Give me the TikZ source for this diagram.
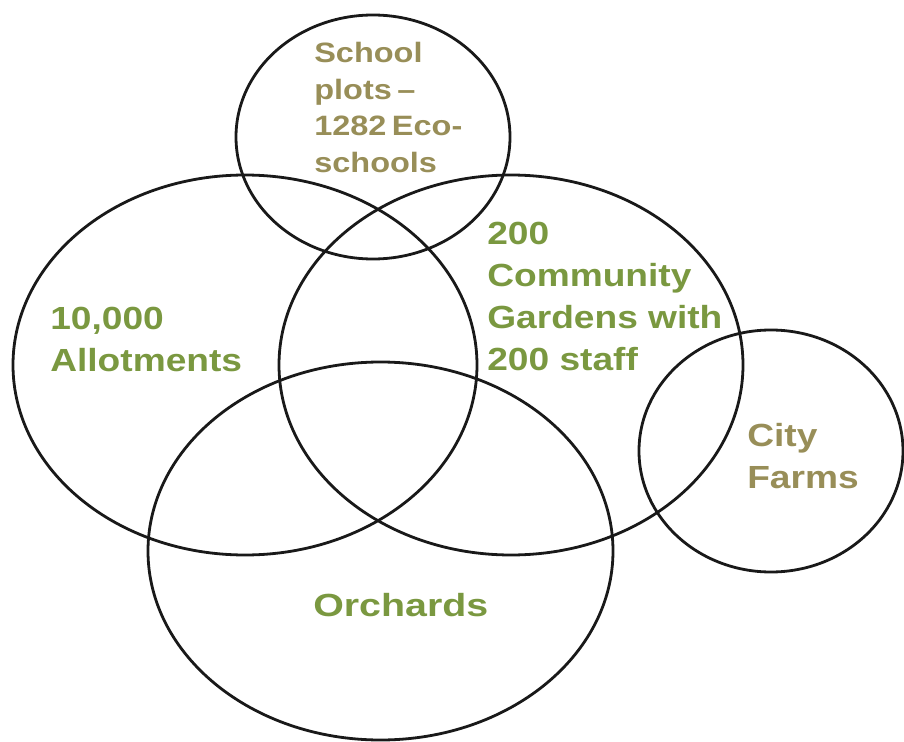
\documentclass[tikz,border=0pt]{standalone}
\usepackage{fontspec}
\setmainfont{Liberation Sans}
\usepackage{xcolor}
\usepackage{tikz}
\usetikzlibrary{shapes.geometric,positioning}
\definecolor{leafgreen}{RGB}{122, 152, 64}
\definecolor{khaki}{RGB}{152, 142, 88}

\begin{document}
\begin{tikzpicture}[
    x=0.75pt, y=-0.75pt,
    venn/.style={ellipse, draw=black!90, line width=2.1pt, inner sep=0pt},
    label/.style={anchor=base west, inner sep=0pt, align=left, xscale=1.16, font=\bfseries\fontsize{24}{31.5}\selectfont},
    smalllabel/.style={label, font=\bfseries\fontsize{21}{27.3}\selectfont}
]
\useasboundingbox (0,0) rectangle (904,742);

% the five sets
\node[venn, minimum width=205.5pt, minimum height=183pt] (school) at (373,137) {};
\node[venn, minimum width=348pt, minimum height=285pt] (allot) at (245,365) {};
\node[venn, minimum width=348pt, minimum height=285pt] (garden) at (511,365) {};
\node[venn, minimum width=348.75pt, minimum height=283.5pt] (orch) at (380.5,551) {};
\node[venn, minimum width=198pt, minimum height=181.5pt] (city) at (771,451) {};

% labels (anchored at the baseline of the last line)
\node[smalllabel, text=khaki] (schooltxt) at (314,172) {School\\plots\,--\\1282\,Eco-\\schools};
\node[label, text=leafgreen] (allottxt) at (50,371) {10,000\\Allotments};
\node[label, text=leafgreen] (gardentxt) at (487,370) {200\\Community\\Gardens with\\200 staff};
\node[label, text=khaki] (citytxt) at (747,488) {City\\Farms};
\node[label, text=leafgreen, xscale=1.06] (orchtxt) at (313,616) {Orchards};

\end{tikzpicture}
\end{document}
